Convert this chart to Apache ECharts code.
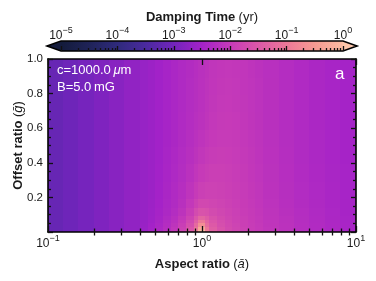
<!DOCTYPE html>
<html><head><meta charset="utf-8">
<script src="https://cdn.jsdelivr.net/npm/echarts@6/dist/echarts.min.js"></script>
<style>html,body{margin:0;padding:0;background:#fff}#c{width:376px;height:281px}</style>
</head><body><div id="c"></div>
<script>
// log10 of aspect ratio: cell edges
const logAspectEdges = [-1.0,-0.9,-0.8,-0.7,-0.6,-0.5,-0.4,-0.35,-0.3,-0.25,-0.2,-0.15,-0.1,-0.05,-0.025,0.025,0.05,0.1,0.15,0.2,0.25,0.3,0.35,0.4,0.5,0.6,0.7,0.8,0.9,1.0];
// offset ratio: cell edges
const offsetEdges = [0,0.02,0.04,0.06,0.08,0.1,0.15,0.2,0.3,0.4,0.5,0.6,0.7,0.8,0.9,1.0];
// log10(damping time / yr), one row per offset band (bottom to top), one value per aspect cell
const logDampingTime = [
  [-3.14,-3.05,-2.96,-2.87,-2.78,-2.69,-2.59,-2.46,-2.35,-2.20,-2.04,-1.83,-1.48,-0.90, 0.00,-0.90,-1.35,-1.57,-1.71,-1.80,-1.88,-1.95,-2.01,-2.08,-2.15,-2.23,-2.30,-2.36,-2.42],
  [-3.14,-3.05,-2.96,-2.87,-2.78,-2.69,-2.60,-2.48,-2.37,-2.23,-2.08,-1.88,-1.55,-1.05,-0.30,-1.02,-1.40,-1.60,-1.73,-1.82,-1.89,-1.96,-2.02,-2.09,-2.16,-2.24,-2.31,-2.37,-2.43],
  [-3.14,-3.05,-2.96,-2.87,-2.78,-2.69,-2.61,-2.50,-2.40,-2.27,-2.13,-1.94,-1.65,-1.22,-0.65,-1.18,-1.48,-1.65,-1.76,-1.84,-1.91,-1.97,-2.03,-2.10,-2.16,-2.24,-2.31,-2.37,-2.43],
  [-3.14,-3.05,-2.96,-2.87,-2.78,-2.69,-2.62,-2.53,-2.42,-2.30,-2.18,-2.00,-1.75,-1.40,-1.00,-1.32,-1.55,-1.69,-1.78,-1.86,-1.92,-1.98,-2.04,-2.11,-2.17,-2.25,-2.32,-2.38,-2.44],
  [-3.14,-3.05,-2.96,-2.87,-2.78,-2.69,-2.63,-2.55,-2.45,-2.34,-2.22,-2.06,-1.85,-1.55,-1.30,-1.45,-1.62,-1.73,-1.81,-1.88,-1.94,-2.00,-2.05,-2.12,-2.18,-2.26,-2.33,-2.39,-2.44],
  [-3.14,-3.05,-2.96,-2.87,-2.78,-2.69,-2.63,-2.56,-2.47,-2.38,-2.28,-2.14,-1.95,-1.72,-1.58,-1.62,-1.72,-1.79,-1.85,-1.90,-1.96,-2.01,-2.06,-2.13,-2.20,-2.27,-2.34,-2.40,-2.45],
  [-3.14,-3.05,-2.96,-2.87,-2.78,-2.69,-2.63,-2.57,-2.49,-2.40,-2.32,-2.20,-2.05,-1.88,-1.76,-1.76,-1.80,-1.84,-1.88,-1.93,-1.98,-2.03,-2.08,-2.15,-2.22,-2.29,-2.35,-2.41,-2.45],
  [-3.14,-3.05,-2.96,-2.87,-2.78,-2.69,-2.63,-2.58,-2.50,-2.41,-2.33,-2.24,-2.12,-2.00,-1.90,-1.87,-1.86,-1.88,-1.91,-1.95,-1.99,-2.04,-2.09,-2.16,-2.23,-2.30,-2.36,-2.41,-2.46],
  [-3.14,-3.05,-2.96,-2.87,-2.78,-2.69,-2.63,-2.58,-2.51,-2.43,-2.36,-2.28,-2.18,-2.08,-2.00,-1.95,-1.92,-1.92,-1.94,-1.97,-2.01,-2.06,-2.11,-2.17,-2.24,-2.31,-2.37,-2.42,-2.46],
  [-3.14,-3.05,-2.96,-2.87,-2.78,-2.69,-2.63,-2.58,-2.52,-2.44,-2.37,-2.30,-2.22,-2.14,-2.07,-2.01,-1.97,-1.95,-1.96,-1.99,-2.03,-2.07,-2.12,-2.18,-2.25,-2.32,-2.38,-2.43,-2.47],
  [-3.14,-3.05,-2.96,-2.87,-2.78,-2.69,-2.63,-2.58,-2.52,-2.45,-2.39,-2.32,-2.25,-2.18,-2.12,-2.06,-2.02,-1.99,-1.99,-2.01,-2.05,-2.09,-2.13,-2.19,-2.26,-2.32,-2.38,-2.43,-2.47],
  [-3.14,-3.05,-2.96,-2.87,-2.78,-2.69,-2.63,-2.58,-2.52,-2.46,-2.40,-2.33,-2.27,-2.21,-2.16,-2.10,-2.05,-2.01,-2.00,-2.02,-2.06,-2.10,-2.14,-2.20,-2.27,-2.33,-2.39,-2.44,-2.48],
  [-3.14,-3.05,-2.96,-2.87,-2.78,-2.69,-2.63,-2.58,-2.52,-2.46,-2.40,-2.34,-2.28,-2.23,-2.18,-2.12,-2.07,-2.03,-2.02,-2.04,-2.07,-2.11,-2.15,-2.20,-2.27,-2.33,-2.39,-2.44,-2.48],
  [-3.14,-3.05,-2.96,-2.87,-2.78,-2.69,-2.63,-2.58,-2.52,-2.46,-2.40,-2.34,-2.28,-2.23,-2.18,-2.13,-2.08,-2.04,-2.03,-2.05,-2.08,-2.11,-2.15,-2.20,-2.27,-2.33,-2.39,-2.44,-2.48],
  [-3.14,-3.05,-2.96,-2.87,-2.78,-2.69,-2.63,-2.58,-2.52,-2.46,-2.40,-2.34,-2.29,-2.24,-2.19,-2.14,-2.09,-2.06,-2.05,-2.06,-2.08,-2.12,-2.16,-2.21,-2.27,-2.33,-2.39,-2.44,-2.48]
];
const aspectMajorTicks = [0.1, 1, 10];
const aspectMinorTicks = [0.2,0.3,0.4,0.5,0.6,0.7,0.8,0.9,2,3,4,5,6,7,8,9];
const cbarMajorTicks = [1e-5,1e-4,1e-3,1e-2,1e-1,1];
const cbarMinorTicks = [];
[1e-5,1e-4,1e-3,1e-2,1e-1].forEach(d => { for (let k = 2; k <= 9; k++) cbarMinorTicks.push(+(d*k).toPrecision(3)); });
const cmapColors = ['#131b3a','#1f2358','#2f2a7c','#4a2a9e','#7224bc','#a422c8','#c63ab8','#dc58a8','#ec7898','#f59a92','#fcbca2'];
const underColor = '#141c3c', overColor = '#fdc6aa';

const cells = [];
logDampingTime.forEach((row, r) => row.forEach((v, c) => {
  cells.push([Math.pow(10, logAspectEdges[c]), Math.pow(10, logAspectEdges[c+1]), offsetEdges[r], offsetEdges[r+1], v]);
}));

const FONT = 'Liberation Sans';
const TXT = '#1a1a1a';
function powLabel(v){
  const e = Math.round(Math.log10(v));
  return '{b|10}{s|' + (e < 0 ? '\u2212' : '') + Math.abs(e) + '}';
}
const powRich = { b: {fontSize: 12, fontFamily: FONT, color: TXT}, s: {fontSize: 9, fontFamily: FONT, color: TXT, padding: [0, 0, 10, 0]} };

const tickStyle = {color: '#111', width: 1.3};
function mkX(opts){
  return Object.assign({type: 'log', logBase: 10, gridIndex: 0, min: 0.1, max: 10, z: 5,
    axisLine: {show: true, onZero: false, lineStyle: {color: '#000', width: 1.6}},
    splitLine: {show: false}, axisLabel: {show: false}, axisTick: {show: false}}, opts);
}
function mkY(opts){
  return Object.assign({type: 'value', gridIndex: 0, min: 0, max: 1, interval: 0.2, z: 5,
    axisLine: {show: true, onZero: false, lineStyle: {color: '#000', width: 1.6}},
    splitLine: {show: false}, minorSplitLine: {show: false},
    axisTick: {show: true, inside: true, length: 5, lineStyle: tickStyle},
    minorTick: {show: true, splitNumber: 4, length: 3, lineStyle: tickStyle},
    axisLabel: {show: false}}, opts);
}
const nameRich = {bb: {fontSize: 13, fontWeight: 'bold', fontFamily: FONT, color: TXT}, r: {fontSize: 13, fontFamily: FONT, color: TXT}, i: {fontSize: 13, fontStyle: 'italic', fontFamily: FONT, color: TXT}};

const option = {
  animation: false,
  backgroundColor: '#fff',
  grid: [
    {left: 48, top: 59, width: 308, height: 173, show: false, outerBoundsMode: 'none', containLabel: false},
    {left: 61, top: 41, width: 282, height: 10, show: false, outerBoundsMode: 'none', containLabel: false}
  ],
  xAxis: [
    mkX({position: 'bottom',
      axisTick: {show: true, inside: true, length: 6, lineStyle: tickStyle, customValues: aspectMajorTicks},
      axisLabel: {show: true, margin: 2, formatter: powLabel, rich: powRich, customValues: aspectMajorTicks},
      name: '{bb|Aspect ratio} {r|(}{i|\u0101}{r|)}', nameLocation: 'middle', nameGap: 26,
      nameTextStyle: {rich: nameRich}
    }),
    mkX({position: 'bottom', axisLine: {show: false}, axisTick: {show: true, inside: true, length: 3.5, lineStyle: tickStyle, customValues: aspectMinorTicks}}),
    mkX({position: 'top', axisTick: {show: true, inside: true, length: 6, lineStyle: tickStyle, customValues: aspectMajorTicks}}),
    mkX({position: 'top', axisLine: {show: false}, axisTick: {show: true, inside: true, length: 3.5, lineStyle: tickStyle, customValues: aspectMinorTicks}}),
    // colorbar axes
    {type: 'log', logBase: 10, gridIndex: 1, min: 1e-5, max: 1, position: 'top', z: 5,
      axisLine: {show: false}, axisTick: {show: false}, splitLine: {show: false},
      axisLabel: {show: true, margin: -4, formatter: powLabel, rich: powRich, customValues: cbarMajorTicks},
      name: '{bb|Damping Time} {r|(yr)}', nameLocation: 'middle', nameGap: 17,
      nameTextStyle: {rich: nameRich}
    },
    {type: 'log', logBase: 10, gridIndex: 1, min: 1e-5, max: 1, position: 'bottom', z: 5,
      axisLine: {show: false}, splitLine: {show: false}, axisLabel: {show: false},
      axisTick: {show: true, inside: true, length: 5, lineStyle: tickStyle, customValues: cbarMajorTicks}},
    {type: 'log', logBase: 10, gridIndex: 1, min: 1e-5, max: 1, position: 'bottom', z: 5,
      axisLine: {show: false}, splitLine: {show: false}, axisLabel: {show: false},
      axisTick: {show: true, inside: true, length: 3, lineStyle: tickStyle, customValues: cbarMinorTicks}}
  ],
  yAxis: [
    mkY({position: 'left',
      axisLabel: {show: true, margin: 5, fontSize: 11.5, fontFamily: FONT, color: TXT, showMinLabel: false, formatter: v => v.toFixed(1)},
      name: '{bb|Offset ratio} {r|(}{i|\u1e21}{r|)}', nameLocation: 'middle', nameGap: 23, nameMoveOverlap: false,
      nameTextStyle: {rich: nameRich}
    }),
    mkY({position: 'right'}),
    {type: 'value', gridIndex: 1, min: 0, max: 1, show: false}
  ],
  visualMap: {type: 'continuous', show: false, seriesIndex: 0, dimension: 4, min: -5, max: 0, inRange: {color: cmapColors}},
  series: [
    {type: 'custom', xAxisIndex: 0, yAxisIndex: 0, clip: true, z: 1,
      encode: {x: [0, 1], y: [2, 3]},
      data: cells,
      renderItem: function(params, api){
        const p0 = api.coord([api.value(0), api.value(2)]);
        const p1 = api.coord([api.value(1), api.value(3)]);
        const x = Math.floor(p0[0]), y = Math.floor(p1[1]);
        return {type: 'rect', shape: {x: x, y: y, width: Math.ceil(p1[0]) - x + 1, height: Math.ceil(p0[1]) - y + 1},
          style: {fill: api.visual('color')}};
      }
    },
    {type: 'custom', xAxisIndex: 4, yAxisIndex: 2, clip: false, z: 1, silent: true,
      data: [[1e-5, 1]],
      renderItem: function(params, api){
        const a = api.coord([api.value(0), 0]);
        const b = api.coord([api.value(1), 1]);
        const x0 = a[0], x1 = b[0], yT = b[1], yB = a[1], ym = (yT + yB) / 2, tip = 14;
        const stops = cmapColors.map((c, i) => ({offset: i / (cmapColors.length - 1), color: c}));
        return {type: 'group', children: [
          {type: 'rect', shape: {x: x0, y: yT, width: x1 - x0, height: yB - yT}, style: {fill: new echarts.graphic.LinearGradient(0, 0, 1, 0, stops)}},
          {type: 'polygon', shape: {points: [[x0 + 0.5, yT], [x0 - tip, ym], [x0 + 0.5, yB]]}, style: {fill: underColor}},
          {type: 'polygon', shape: {points: [[x1 - 0.5, yT], [x1 + tip, ym], [x1 - 0.5, yB]]}, style: {fill: overColor}},
          {type: 'polygon', z2: 10, shape: {points: [[x0, yT], [x1, yT], [x1 + tip, ym], [x1, yB], [x0, yB], [x0 - tip, ym]]}, style: {fill: 'none', stroke: '#000', lineWidth: 1.6}}
        ]};
      }
    }
  ],
  graphic: [
    {type: 'text', left: 57, top: 64, z: 20, style: {text: 'c=1000.0\u2009{i|\u03bc}m', fill: '#fff', font: '13px "Liberation Sans"', rich: {i: {fontStyle: 'italic', fontSize: 13, fontFamily: FONT, fill: '#fff'}}}},
    {type: 'text', left: 57, top: 81, z: 20, style: {text: 'B=5.0\u2009mG', fill: '#fff', font: '13px "Liberation Sans"'}},
    {type: 'text', left: 335, top: 66, z: 20, style: {text: 'a', fill: '#fff', font: '17px "Liberation Sans"'}}
  ]
};
const chart = echarts.init(document.getElementById('c'), null, {renderer: 'canvas'});
chart.setOption(option);
</script>
</body></html>
